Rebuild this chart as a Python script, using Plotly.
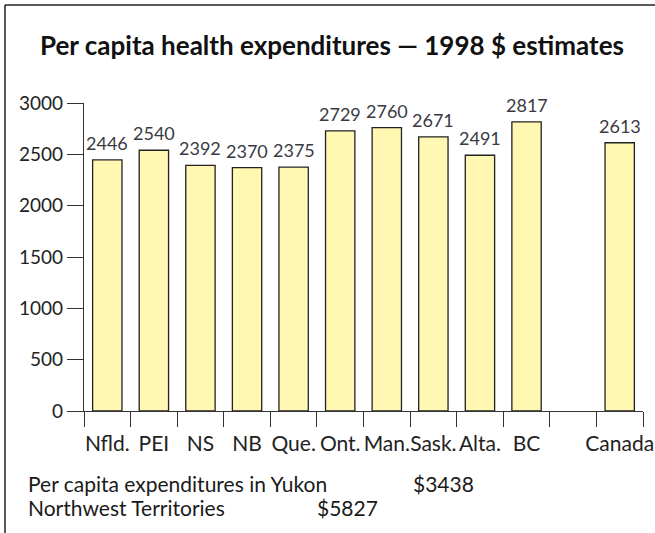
import plotly.graph_objects as go

categories = ["Nfld.", "PEI", "NS", "NB", "Que.", "Ont.", "Man.", "Sask.", "Alta.", "BC", " ", "Canada"]
values = [2446, 2540, 2392, 2370, 2375, 2729, 2760, 2671, 2491, 2817, None, 2613]
yticks = [0, 500, 1000, 1500, 2000, 2500, 3000]
title_text = "Per capita health expenditures — 1998 $ estimates"
note1_label, note1_value = "Per capita expenditures in Yukon", "$3438"
note2_label, note2_value = "Northwest Territories", "$5827"

W, H = 655, 533
X0, X1, Y0, Y1 = 84, 643, 103, 411   # plot area in window pixels
ML, MT = X0, Y0
MR, MB = W - X1, H - Y1
PW, PH = X1 - X0, Y1 - Y0

def px(x):
    return (x - X0) / PW

def py(y):
    return (Y1 - y) / PH

FONT = "Lato, Open Sans, sans-serif"

fig = go.Figure(go.Bar(
    x=categories, y=values,
    marker=dict(color="#FFF7B2", line=dict(color="#222222", width=1.3)),
    width=0.63, hoverinfo="x+y",
))

value_notes = [
    dict(text=str(v), x=c, y=v, xref="x", yref="y", xanchor="center", yanchor="bottom",
         yshift=4, showarrow=False, font=dict(size=18, color="#3a3a44", family=FONT))
    for c, v in zip(categories, values) if v is not None
]

foot = dict(xref="paper", yref="paper", xanchor="left", yanchor="middle", showarrow=False,
            font=dict(size=21, color="#1a1a1a", family=FONT))

fig.update_layout(
    width=W, height=H, margin=dict(l=ML, r=MR, t=MT, b=MB, autoexpand=False),
    plot_bgcolor="white", paper_bgcolor="white", showlegend=False,
    font=dict(family=FONT, size=18, color="#222222"),
    title=dict(text="<b>" + title_text + "</b>", x=332 / W, xanchor="center",
               y=1 - 46 / H, yanchor="middle", xref="container", yref="container",
               font=dict(size=26, color="#111111", family=FONT)),
    xaxis=dict(type="category", range=[-0.5, 11.5], tickson="boundaries",
               ticks="outside", ticklen=15, tickcolor="#333333", tickwidth=1.2,
               showline=True, linecolor="#333333", linewidth=1.2, tickangle=0,
               automargin=False, ticklabelstandoff=14,
               showgrid=False, tickfont=dict(size=21, color="#222222")),
    yaxis=dict(range=[0, 3000], tickvals=yticks, ticks="outside", ticklen=16,
               tickcolor="#333333", tickwidth=1.2, showline=True, linecolor="#333333",
               linewidth=1.2, showgrid=False, zeroline=False, automargin=False,
               tickfont=dict(size=19, color="#222222")),
    shapes=[
        dict(type="line", xref="paper", yref="paper", x0=px(5), x1=px(700), y0=py(5), y1=py(5),
             line=dict(color="#222222", width=1.5)),
        dict(type="line", xref="paper", yref="paper", x0=px(5), x1=px(5), y0=py(5), y1=py(600),
             line=dict(color="#222222", width=1.5)),
    ],
    annotations=value_notes + [
        dict(foot, text=note1_label, x=px(26), y=py(483)),
        dict(foot, text=note1_value, x=px(411), y=py(483)),
        dict(foot, text=note2_label, x=px(26), y=py(507)),
        dict(foot, text=note2_value, x=px(315), y=py(507)),
    ],
)

fig.write_html("out.html", config={"displayModeBar": False},
               post_script="document.body.style.margin='0px';")
